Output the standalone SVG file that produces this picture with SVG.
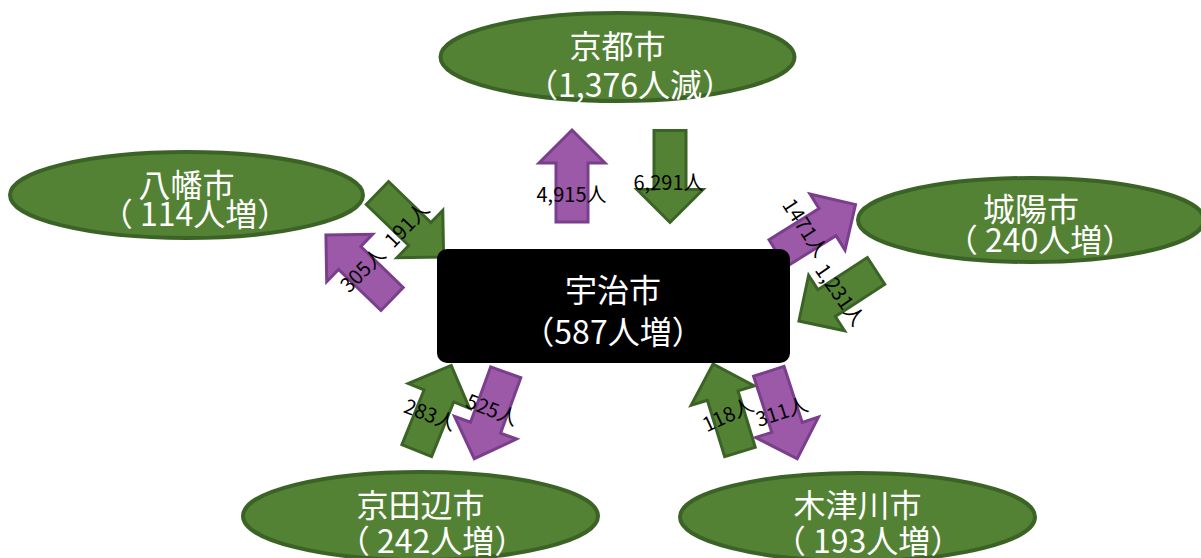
<svg xmlns="http://www.w3.org/2000/svg" width="1201" height="558" viewBox="0 0 1201 558">
<style>
.city{fill:#548235;stroke:#3b6326;stroke-width:4}
.ct{fill:#ffffff;font-family:"Noto Sans CJK JP","Noto Sans",sans-serif;font-size:32px;text-anchor:middle}
.pa{fill:#9b59a8;stroke:#7a3f8c;stroke-width:3;stroke-linejoin:miter}
.ga{fill:#548235;stroke:#3b6326;stroke-width:3;stroke-linejoin:miter}
.lb{fill:#000000;font-family:"Noto Sans CJK JP","Noto Sans",sans-serif;font-size:20px;text-anchor:middle}
</style>
<defs>
<path id="arr" d="M -46,-16 L 13,-16 L 13,-33 L 46,0 L 13,33 L 13,16 L -46,16 Z"/>
</defs>
<rect width="1201" height="558" fill="#ffffff"/>
<g id="connectors">
<use href="#arr" class="pa" transform="translate(572,176) rotate(-90)"/>
<use href="#arr" class="ga" transform="translate(670,176.5) rotate(90)"/>
<use href="#arr" class="ga" transform="translate(410.5,225) rotate(44)"/>
<use href="#arr" class="pa" transform="translate(359,267) rotate(-136)"/>
<use href="#arr" class="pa" transform="translate(816.5,229) rotate(-32)"/>
<use href="#arr" class="ga" transform="translate(837.5,296) rotate(147)"/>
<use href="#arr" class="ga" transform="translate(434,408) rotate(-68)"/>
<use href="#arr" class="pa" transform="translate(490,415.5) rotate(110)"/>
<use href="#arr" class="ga" transform="translate(726.5,408) rotate(-107)"/>
<use href="#arr" class="pa" transform="translate(783,415) rotate(72)"/>
<text class="lb" x="571.5" y="202">4,915人</text>
<text class="lb" x="668.5" y="190">6,291人</text>
<text class="lb" transform="translate(407,225) rotate(-46)" y="7">191人</text>
<text class="lb" transform="translate(363,270) rotate(-45)" y="7">305人</text>
<text class="lb" transform="translate(805,228) rotate(57)" y="7">1471人</text>
<text class="lb" transform="translate(840,295) rotate(55)" y="7">1,231人</text>
<text class="lb" transform="translate(430,415) rotate(21)" y="7">283人</text>
<text class="lb" transform="translate(492,410) rotate(21)" y="7">525人</text>
<text class="lb" transform="translate(728,415) rotate(-25)" y="7">118人</text>
<text class="lb" transform="translate(782,412) rotate(-18)" y="7">311人</text>
</g>
<g id="uji">
<rect x="437" y="249" width="353" height="114" rx="10" fill="#000000"/>
<text class="ct" x="613" y="302">宇治市</text>
<text class="ct" x="613" y="344">（587人増）</text>
</g>
<g id="kyoto">
<ellipse class="city" cx="617.5" cy="57" rx="177" ry="44"/>
<text class="ct" x="617.5" y="58">京都市</text>
<text class="ct" x="630" y="97">（1,376人減）</text>
</g>
<g id="yawata">
<ellipse class="city" cx="186.5" cy="195" rx="176.5" ry="43"/>
<text class="ct" x="186.5" y="197">八幡市</text>
<text class="ct" x="195" y="226">（ 114人増）</text>
</g>
<g id="joyo">
<ellipse class="city" cx="1031" cy="220" rx="173" ry="42"/>
<text class="ct" x="1031" y="221">城陽市</text>
<text class="ct" x="1040" y="252">（ 240人増）</text>
</g>
<g id="kyotanabe">
<ellipse class="city" cx="420.5" cy="516" rx="177.5" ry="44"/>
<text class="ct" x="420.5" y="517">京田辺市</text>
<text class="ct" x="432" y="553">（ 242人増）</text>
</g>
<g id="kizugawa">
<ellipse class="city" cx="857.5" cy="517" rx="177.5" ry="44"/>
<text class="ct" x="857.5" y="517">木津川市</text>
<text class="ct" x="868" y="553">（ 193人増）</text>
</g>
</svg>
